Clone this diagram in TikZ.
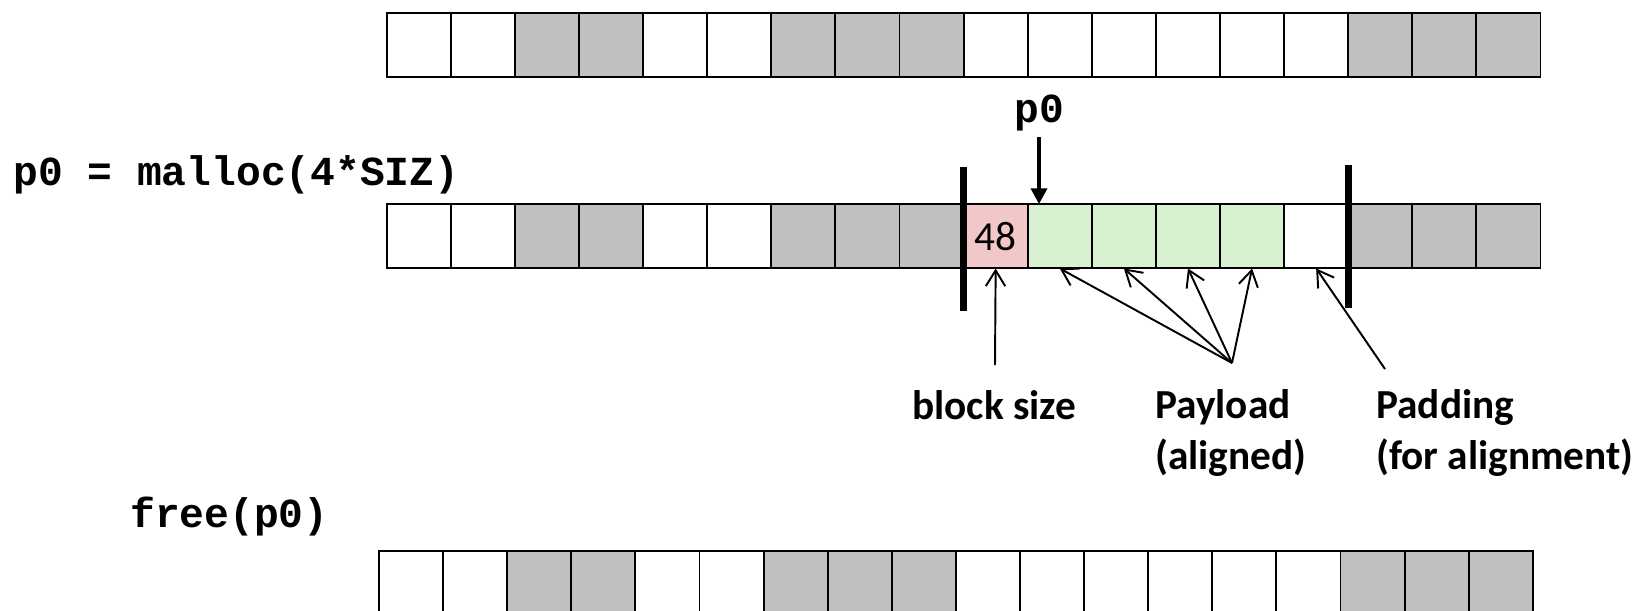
\documentclass[tikz,border=0pt]{standalone}
\usepackage{fontspec}
\usetikzlibrary{arrows.meta}
\newfontfamily\codefont{Liberation Mono}
\newfontfamily\labelfont{Carlito}
\definecolor{used}{RGB}{192,192,192}
\definecolor{hdr}{RGB}{242,199,200}
\definecolor{pay}{RGB}{215,241,209}
\begin{document}
\begin{tikzpicture}[x=0.02cm,y=-0.02cm,
 cell/.style={draw,line width=1.1pt,fill=#1,minimum width=1.282cm,minimum height=1.286cm,inner sep=0pt,outer sep=0pt},
 code/.style={font=\codefont\bfseries\fontsize{23.5}{28}\selectfont,inner sep=0pt},
 lbl/.style={font=\labelfont\bfseries\fontsize{23.5}{28.5}\selectfont,align=left,inner sep=0pt},
 callout/.style={line width=1.1pt,-{Straight Barb[length=9pt,width=11pt]}},
 ptr/.style={line width=2.3pt,-{Triangle[length=9pt,width=9pt]}},
 bar/.style={line width=4pt}]
 \useasboundingbox (0,0) rectangle (1643,610);
 \foreach \c [count=\i from 0] in {white,white,used,used,white,white,used,used,used,white,white,white,white,white,white,used,used,used}
  \node[cell=\c] (t\i) at (418.75+64.1*\i,45) {};
 \node[code,anchor=base west] (alloc) at (13,185) {p0 = malloc(4*SIZ)};
 \foreach \c [count=\i from 0] in {white,white,used,used,white,white,used,used,used,hdr,pay,pay,pay,pay,white,used,used,used}
  \node[cell=\c] (m\i) at (418.75+64.1*\i,236.3) {};
 \node[font=\labelfont\fontsize{23.5}{28}\selectfont] (sz) at (m9) {48};
 \draw[bar] (m9.west) ++(0,-69) -- ++(0,144);
 \draw[bar] (m15.west) ++(0,-71) -- ++(0,143);
 \node[code,anchor=base] (plbl) at (1039,122) {p0};
 \draw[ptr,shorten <=3.5pt] (plbl.south) -- (plbl.south |- m10.north);
 \node[lbl,anchor=base west] (bsize) at (912,419) {block size};
 \node[lbl,anchor=base west] (pload) at (1155,469) {Payload\\(aligned)};
 \node[lbl,anchor=base west] (pad) at (1376,469) {Padding\\(for alignment)};
 \coordinate (bs) at (995,365);
 \coordinate (pl) at (1232,363);
 \coordinate (pd) at (1385,369);
 \draw[callout] (bs) -- (m9.south);
 \foreach \i in {10,...,13}
  \draw[callout] (pl) -- (m\i.south);
 \draw[callout] (pd) -- (m14.south);
 \node[code,anchor=base west] (freecall) at (130,527) {free(p0)};
 \begin{scope}
  \clip (0,0) rectangle (1643,610);
  \foreach \c [count=\i from 0] in {white,white,used,used,white,white,used,used,used,white,white,white,white,white,white,used,used,used}
   \node[cell=\c] (f\i) at (411.05+64.1*\i,583) {};
 \end{scope}
\end{tikzpicture}
\end{document}
